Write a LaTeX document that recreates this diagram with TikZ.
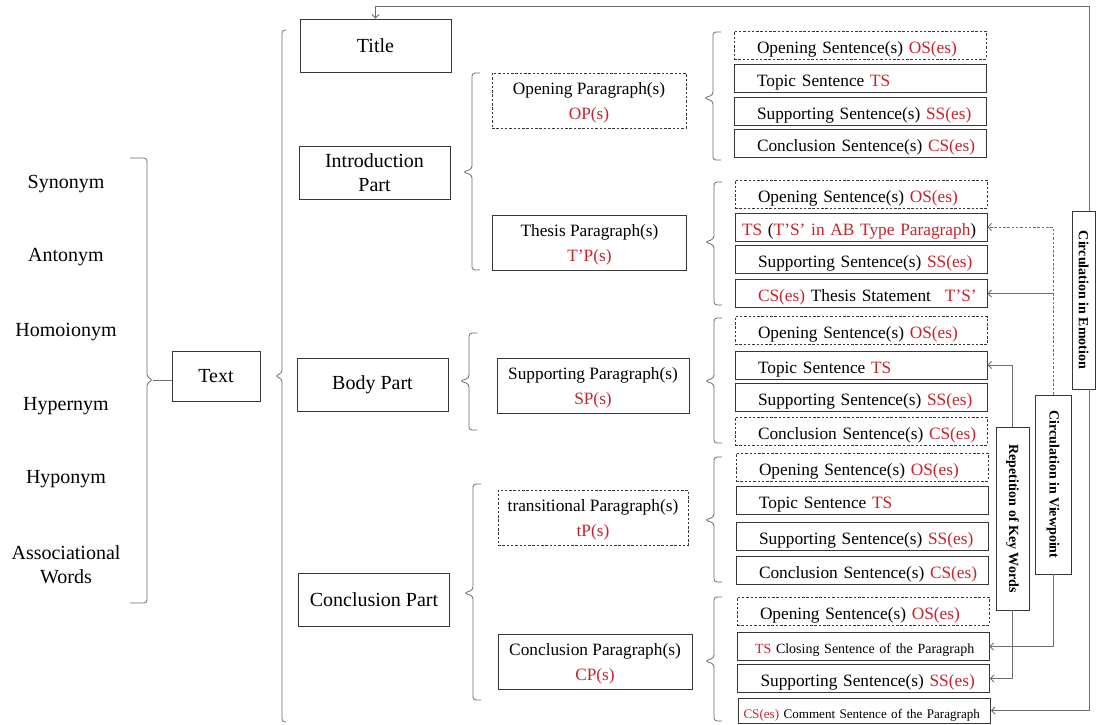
\documentclass[tikz,border=0pt]{standalone}
\usepackage{fontspec}
\setmainfont{Liberation Serif}
\usepackage{graphicx}
\usetikzlibrary{arrows.meta,calc}
\definecolor{tred}{RGB}{200,35,45}
\definecolor{bcol}{RGB}{55,55,55}
\definecolor{gcol}{RGB}{110,110,110}
\newcommand{\rd}[1]{\textcolor{tred}{#1}}
\newcommand{\myind}{23pt}
\newcommand{\brL}[4]{\draw[brace] (#1+8,#2) -- (#1,#2) -- (#1,#4-3) -- (#1-9,#4) -- (#1,#4+3) -- (#1,#3) -- (#1+8,#3);}
\tikzset{
 box/.style={draw=bcol, line width=0.9pt, inner sep=0pt, align=center},
 dsh/.style={dash pattern=on 2.5pt off 1.8pt},
 l1/.style={box, minimum width=151pt, minimum height=53pt, font=\fontsize{20}{24}\selectfont},
 l2/.style={box, minimum width=194pt, minimum height=55pt, text depth=0pt, font=\fontsize{17.3}{25}\selectfont},
 ind/.code={\def\myind{#1}},
 l3/.style={draw=bcol, line width=0.9pt, minimum width=252pt, minimum height=28pt, inner ysep=0pt, inner xsep=0pt, text width=252pt, text height=20pt, text depth=4pt, align=left, font=\fontsize{17.3}{20}\selectfont, execute at begin node={\hspace*{\myind}}},
 word/.style={align=center, font=\fontsize{20}{24}\selectfont},
 vbox/.style={draw=bcol, line width=0.9pt, inner sep=0pt, font=\fontsize{14}{16}\selectfont\bfseries},
 brace/.style={draw=gcol, line width=0.8pt, rounded corners=3pt},
 conn/.style={draw=gcol, line width=0.8pt, -{Straight Barb[length=3.5pt,width=7pt]}},
}
\begin{document}
\begin{tikzpicture}[x=1pt,y=-1pt]
\fill[white] (0,0) rectangle (1096,724);
\useasboundingbox (0,0) rectangle (1096,724);

% left words
\node[word] (syn) at (66,184) {Synonym};
\node[word] (ant) at (66,257) {Antonym};
\node[word] (hom) at (66,332) {Homoionym};
\node[word] (hyper) at (66,406) {Hypernym};
\node[word] (hypo) at (66,479) {Hyponym};
\node[word] (assoc) at (66,565) {Associational\\Words};
\draw[brace] (130,158) -- (147,158) -- (147,377) -- (153,380) -- (147,383) -- (147,603) -- (130,603);
\coordinate (wtip) at (153,380);

\node[box, minimum width=88pt, minimum height=50pt, font=\fontsize{20}{24}\selectfont] (txt) at (216,376) {Text};
\draw[draw=gcol, line width=0.8pt] (wtip) -- (wtip -| txt.west);

% big brace
\draw[brace] (286,30) -- (282,30) -- (282,373) -- (275,376) -- (282,379) -- (282,722) -- (286,722);

% level 1
\node[l1] (title) at (375.5,45.5) {Title};
\node[l1] (intro) at (374.5,172.5) {Introduction\\Part};
\node[l1] (body) at (372.5,384.5) {Body Part};
\node[l1] (concl) at (374,599.5) {Conclusion Part};

% level 2 braces
\brL{472}{73}{270}{172}
\brL{469}{333}{430}{381}
\brL{473}{484}{700}{593}

% level 2
\node[l2,dsh] (op) at (589,100.5) {Opening Paragraph(s)\\\rd{OP(s)}};
\node[l2] (tp) at (589.5,243) {Thesis Paragraph(s)\\\rd{T’P(s)}};
\node[l2, minimum width=192pt] (sp) at (593,385.5) {Supporting Paragraph(s)\\\rd{SP(s)}};
\node[l2,dsh, minimum width=190pt] (tpp) at (593,517.5) {transitional Paragraph(s)\\\rd{tP(s)}};
\node[l2] (cp) at (595,661.5) {Conclusion Paragraph(s)\\\rd{CP(s)}};

% level 3 braces
\brL{713}{32}{160}{98}
\brL{714}{182}{305}{242}
\brL{714}{318}{443}{381}
\brL{714}{457}{582}{520}
\brL{714}{597}{721}{661}

% group 1
\node[l3,dsh] (g1os) at (860,45) {Opening Sentence(s) \rd{OS(es)}};
\node[l3] (g1ts) at (860,78) {Topic Sentence \rd{TS}};
\node[l3] (g1ss) at (860,111) {Supporting Sentence(s) \rd{SS(es)}};
\node[l3] (g1cs) at (860,143.5) {Conclusion Sentence(s) \rd{CS(es)}};
% group 2
\node[l3,dsh] (g2os) at (861,194) {Opening Sentence(s) \rd{OS(es)}};
\node[l3,ind=7pt] (g2ts) at (861,227) {\mbox{\rd{TS} (\rd{T’S’ in AB Type Paragraph})}};
\node[l3] (g2ss) at (861,259) {Supporting Sentence(s) \rd{SS(es)}};
\node[l3] (g2cs) at (861,293.5) {\mbox{\rd{CS(es)} Thesis Statement\hspace{14pt}\rd{T’S’}}};
% group 3
\node[l3,dsh] (g3os) at (861,330.5) {Opening Sentence(s) \rd{OS(es)}};
\node[l3] (g3ts) at (861,365) {Topic Sentence \rd{TS}};
\node[l3] (g3ss) at (861,397.5) {Supporting Sentence(s) \rd{SS(es)}};
\node[l3,dsh] (g3cs) at (861,431) {Conclusion Sentence(s) \rd{CS(es)}};
% group 4
\node[l3,dsh] (g4os) at (862,467) {Opening Sentence(s) \rd{OS(es)}};
\node[l3] (g4ts) at (862,500.5) {Topic Sentence \rd{TS}};
\node[l3] (g4ss) at (862,536) {Supporting Sentence(s) \rd{SS(es)}};
\node[l3] (g4cs) at (862,570) {Conclusion Sentence(s) \rd{CS(es)}};
% group 5
\node[l3,dsh] (g5os) at (863,611) {Opening Sentence(s) \rd{OS(es)}};
\node[l3,ind=18pt,text height=17pt,font=\fontsize{14}{16}\selectfont] (g5ts) at (863,646.5) {\mbox{\rd{TS} Closing Sentence of the Paragraph}};
\node[l3] (g5ss) at (863.5,678.5) {Supporting Sentence(s) \rd{SS(es)}};
\node[l3,ind=5pt,minimum height=25pt,text height=19pt,font=\fontsize{13.1}{15}\selectfont] (g5cs) at (864.5,710.5) {\mbox{\rd{CS(es)} Comment Sentence of the Paragraph}};

% vertical boxes
\node[vbox, minimum width=23.5pt, minimum height=178pt] (emo) at (1083.75,300) {\rotatebox{-90}{Circulation in Emotion}};
\node[vbox, minimum width=36pt, minimum height=179pt] (view) at (1053,484.5) {\rotatebox{-90}{Circulation in Viewpoint}};
\node[vbox, minimum width=33pt, minimum height=183pt] (rep) at (1012.5,518.5) {\rotatebox{-90}{Repetition of Key Words}};

% connectors
\draw[conn] ($(emo.north)+(6,0)$) -- ++(0,-204) -| (title.north);
\draw[conn] ($(emo.south)+(6,0)$) |- (g5cs.east);
\draw[conn,dsh] (view.north) |- (g2ts.east);
\draw[conn] (view.north |- g2cs.east) -- (g2cs.east);
\draw[conn] (view.south) |- (g5ts.east);
\draw[conn] (rep.north) |- (g3ts.east);
\draw[conn] (rep.south) |- (g5ss.east);
\end{tikzpicture}
\end{document}
